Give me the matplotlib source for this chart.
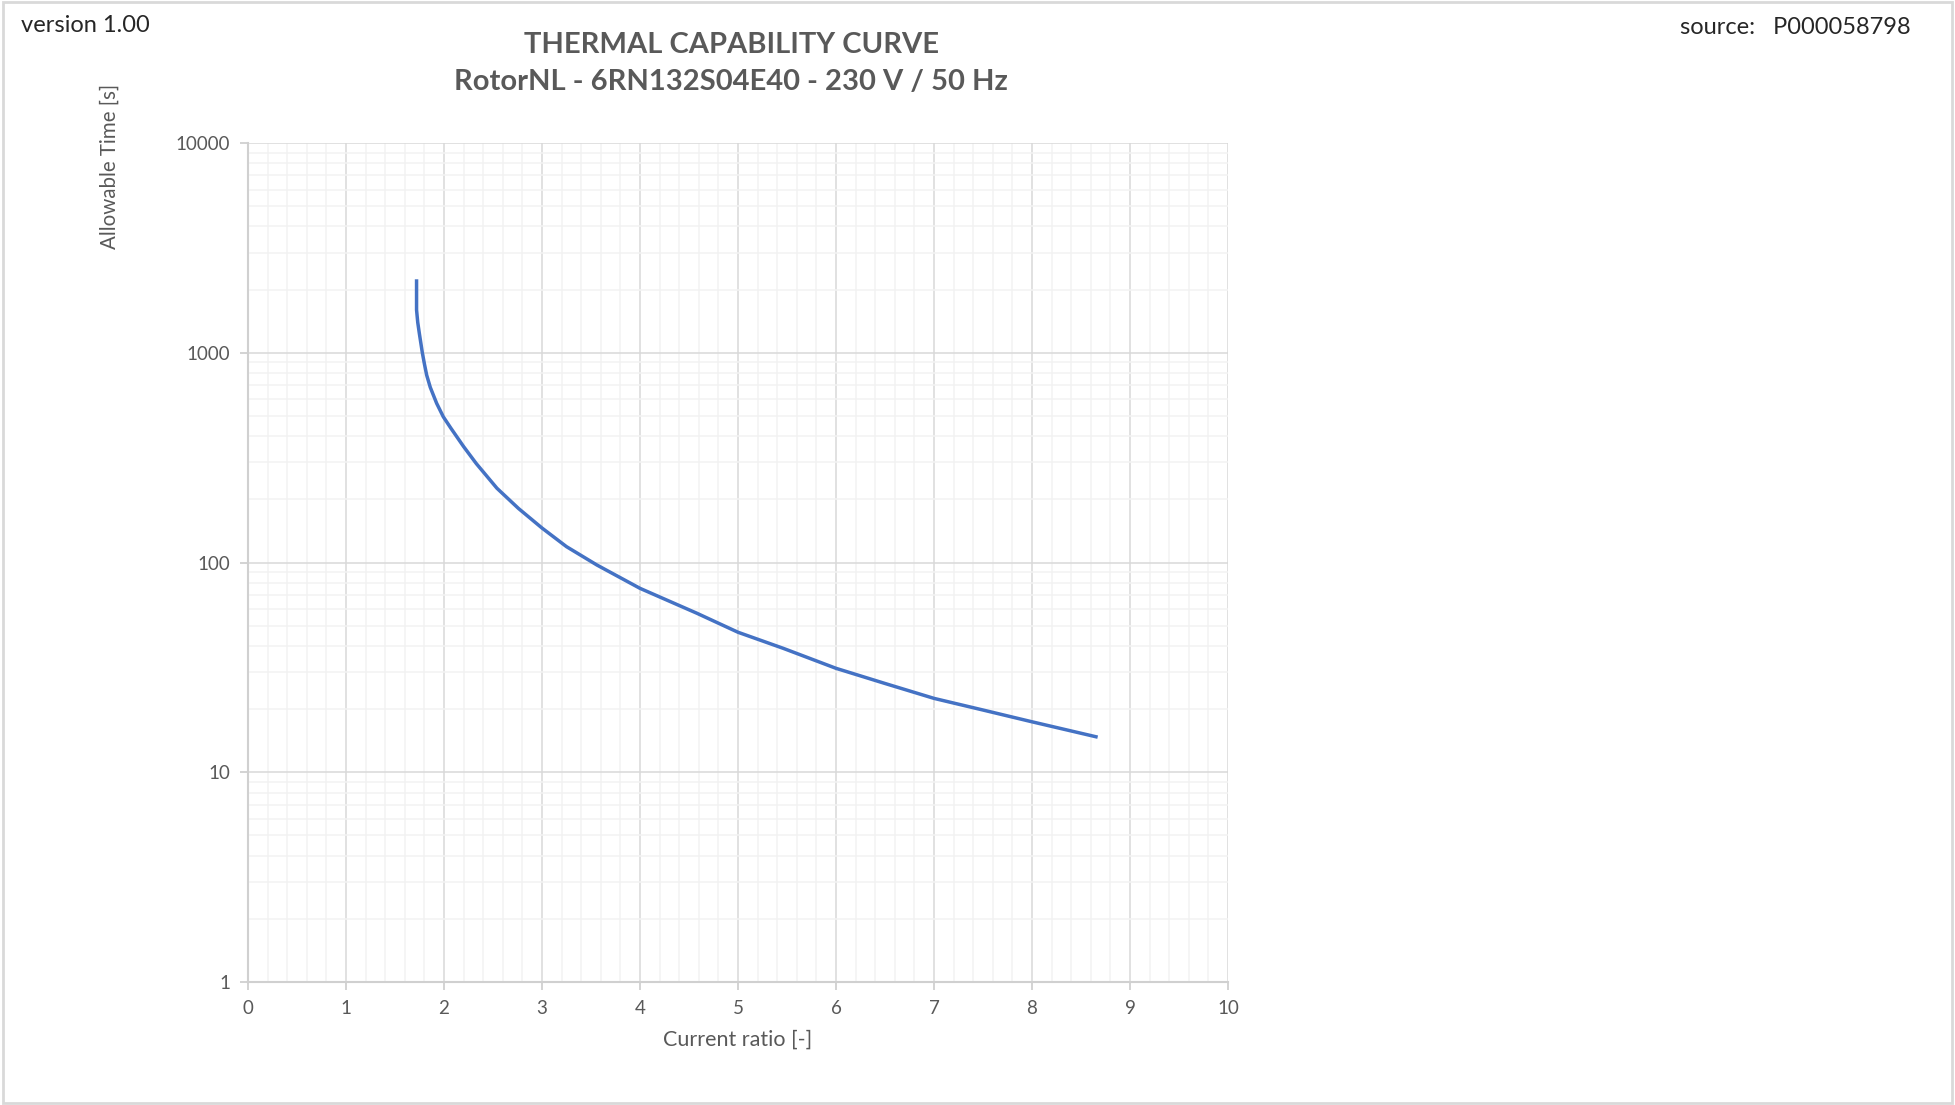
import matplotlib
matplotlib.use("Agg")
import matplotlib.pyplot as plt
from matplotlib.patches import Rectangle
from matplotlib.ticker import FixedLocator, LogLocator, NullFormatter

plt.rcParams['font.family'] = ['Lato', 'DejaVu Sans']

# curve (current ratio vs allowable time)
current_ratio = [1.72, 1.72, 1.732, 1.748, 1.779, 1.80, 1.823, 1.86, 1.925, 1.993,
                 2.07, 2.20, 2.33, 2.54, 2.76, 3.00, 3.25, 3.56, 4.00, 4.58, 5.00,
                 5.46, 6.00, 6.50, 7.00, 7.50, 8.00, 8.67]
allowable_time = [2240, 1600, 1396, 1240, 1000, 885, 783, 684, 574, 495,
                  437, 357, 296, 226, 181, 146, 119, 97.3, 75.3, 57.3, 46.5,
                  39.0, 31.3, 26.5, 22.5, 19.8, 17.4, 14.7]

x_ticks = [0, 1, 2, 3, 4, 5, 6, 7, 8, 9, 10]
y_ticks = [1, 10, 100, 1000, 10000]
y_tick_labels = ['1', '10', '100', '1000', '10000']

title = 'THERMAL CAPABILITY CURVE\nRotorNL - 6RN132S04E40 - 230 V / 50 Hz'
grey = '#595959'

fig = plt.figure(figsize=(19.55, 11.05), dpi=100)
ax = fig.add_axes([248 / 1955, 1 - 982 / 1105, 980 / 1955, 839 / 1105])

ax.plot(current_ratio, allowable_time, color='#4472c4', linewidth=2.5,
        solid_capstyle='butt', solid_joinstyle='round', zorder=3)

ax.set_yscale('log')
ax.set_xlim(0, 10)
ax.set_ylim(1, 10000)

ax.xaxis.set_major_locator(FixedLocator(x_ticks))
ax.xaxis.set_minor_locator(FixedLocator([i * 0.2 for i in range(51)]))
ax.yaxis.set_major_locator(FixedLocator(y_ticks))
ax.yaxis.set_minor_locator(LogLocator(base=10, subs=range(2, 10)))
ax.yaxis.set_minor_formatter(NullFormatter())
ax.set_xticklabels([str(t) for t in x_ticks])
ax.set_yticklabels(y_tick_labels)

ax.grid(which='minor', color='#f2f2f2', linewidth=1.1, zorder=0)
ax.grid(which='major', color='#d9d9d9', linewidth=1.1, zorder=1)
ax.set_axisbelow(True)

for side in ['top', 'right']:
    ax.spines[side].set_visible(False)
for side in ['left', 'bottom']:
    ax.spines[side].set_color('#d0d0d0')
    ax.spines[side].set_linewidth(1.5)

ax.tick_params(which='major', direction='out', length=6, width=1.3, color='#d0d0d0',
               labelcolor=grey, labelsize=13.5, pad=7)
ax.tick_params(which='minor', length=0)

ax.set_xlabel('Current ratio [-]', color=grey, fontsize=15.5, labelpad=9)

fig.text(110 / 1955, 1 - 166 / 1105, 'Allowable Time [s]', rotation=90,
         ha='center', va='center', color=grey, fontsize=14.8)
fig.text(731 / 1955, 1 - 63.5 / 1105, title, ha='center', va='center',
         color=grey, fontsize=21, fontweight='bold', linespacing=1.5)
fig.text(21 / 1955, 1 - 25 / 1105, 'version 1.00', ha='left', va='center',
         color='#262626', fontsize=17)
fig.text(1911 / 1955, 1 - 28 / 1105, 'source:   P000058798', ha='right', va='center',
         color='#262626', fontsize=17)

# chart area border
fig.patches.append(Rectangle((0.0015, 0.002), 0.997, 0.996, transform=fig.transFigure,
                             fill=False, edgecolor='#d9d9d9', linewidth=2))

fig.savefig('out.png', dpi=100, facecolor='white')
